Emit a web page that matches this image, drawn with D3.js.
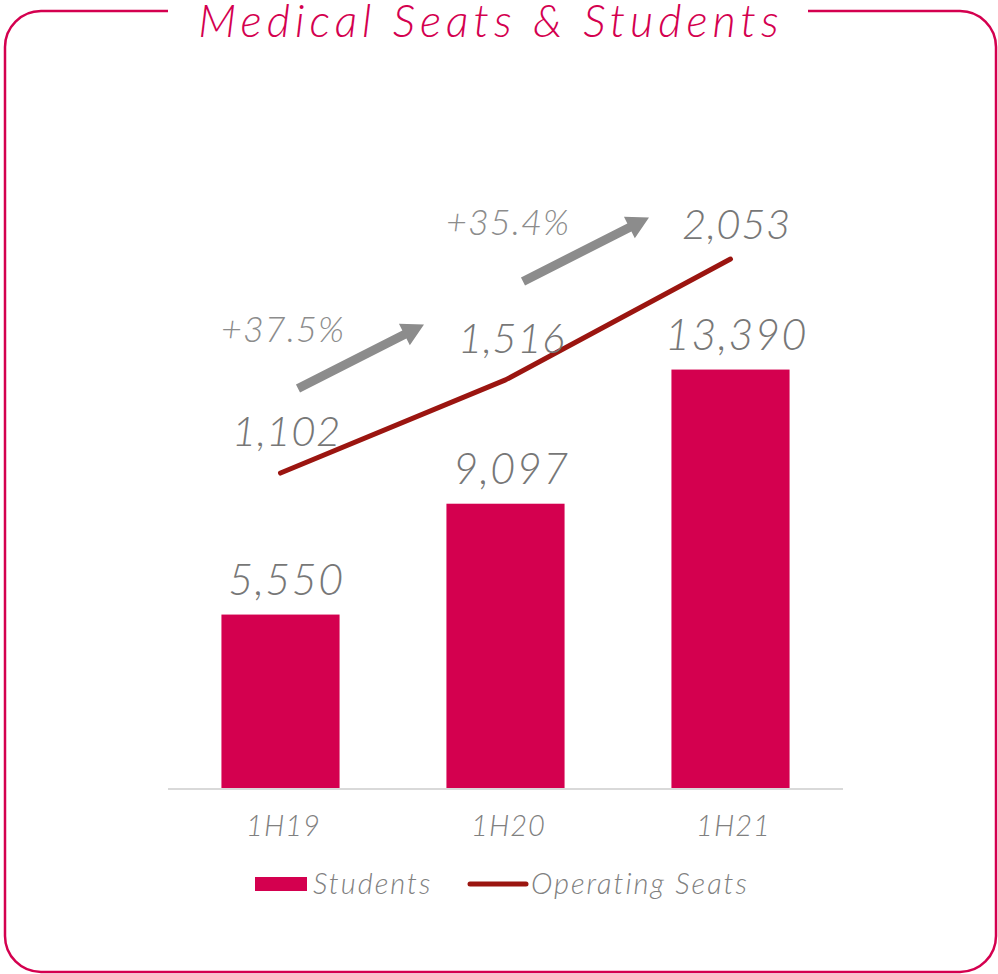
<!DOCTYPE html>
<html>
  <head>
    <title>Medical Seats & Students</title>
    <meta charset="UTF-8" />
    <style>
      body { margin: 0; background: #fff; }
      text { font-family: Lato, "Open Sans", sans-serif; font-style: italic; font-weight: 300; }
    </style>
  </head>
  <body>
    <script src="https://cdn.jsdelivr.net/npm/d3@7"></script>
    <script>
      var periods = ["1H19", "1H20", "1H21"];
      var students = [5550, 9097, 13390];
      var seats = [1102, 1516, 2053];
      var growth = ["+37.5%", "+35.4%"];
      var legendLabels = ["Students", "Operating Seats"];

      var pink = "#d4004f";
      var darkRed = "#9b1510";
      var grey = "#808080";

      var svg = d3.select("body")
                .append("svg")
                .attr("width", 998)
                .attr("height", 974);

      // frame with a gap for the title
      var fx0 = 5, fy0 = 11, fx1 = 996, fy1 = 972, r = 36;
      var gapL = 168, gapR = 808;
      var framePath = d3.path();
      framePath.moveTo(gapR, fy0);
      framePath.lineTo(fx1 - r, fy0);
      framePath.arcTo(fx1, fy0, fx1, fy0 + r, r);
      framePath.lineTo(fx1, fy1 - r);
      framePath.arcTo(fx1, fy1, fx1 - r, fy1, r);
      framePath.lineTo(fx0 + r, fy1);
      framePath.arcTo(fx0, fy1, fx0, fy1 - r, r);
      framePath.lineTo(fx0, fy0 + r);
      framePath.arcTo(fx0, fy0, fx0 + r, fy0, r);
      framePath.lineTo(gapL, fy0);
      svg.append("path")
        .attr("d", framePath.toString())
        .attr("fill", "none")
        .attr("stroke", pink)
        .attr("stroke-width", 2.5);

      svg.append("text")
        .attr("x", 491)
        .attr("y", 37)
        .attr("text-anchor", "middle")
        .attr("font-size", 45)
        .attr("letter-spacing", 5)
        .attr("fill", pink)
        .text("Medical Seats & Students");

      var x = d3.scaleBand()
                .domain(periods)
                .range([168, 843])
                .paddingInner(0.475)
                .paddingOuter(0.2375);

      var y = d3.scaleLinear().domain([0, 16000]).range([788, 288]);
      var y2 = d3.scaleLinear().domain([0, 3000]).range([721, 46]);

      // bars
      svg.append("g").selectAll("rect")
        .data(students)
        .enter()
        .append("rect")
        .attr("x", function(d, i) { return x(periods[i]); })
        .attr("y", function(d) { return y(d); })
        .attr("width", x.bandwidth())
        .attr("height", function(d) { return y(0) - y(d); })
        .attr("fill", pink);

      // axis line
      svg.append("line")
        .attr("x1", 168).attr("x2", 843)
        .attr("y1", 789).attr("y2", 789)
        .attr("stroke", "#d9d9d9")
        .attr("stroke-width", 2);

      svg.append("g").selectAll("text")
        .data(periods)
        .enter()
        .append("text")
        .attr("x", function(d) { return x(d) + x.bandwidth() / 2 + 3; })
        .attr("y", 836)
        .attr("text-anchor", "middle")
        .attr("font-size", 29)
        .attr("letter-spacing", 1)
        .attr("fill", grey)
        .text(function(d) { return d; });

      svg.append("g").selectAll("text")
        .data(students)
        .enter()
        .append("text")
        .attr("x", function(d, i) { return x(periods[i]) + x.bandwidth() / 2 + 6; })
        .attr("y", function(d) { return y(d) - 20; })
        .attr("text-anchor", "middle")
        .attr("font-size", 43)
        .attr("letter-spacing", 1.5)
        .attr("fill", "#777")
        .text(function(d) { return d3.format(",")(d); });

      // line
      var cx = function(i) { return x(periods[i]) + x.bandwidth() / 2; };
      var line = d3.line()
                .x(function(d, i) { return cx(i); })
                .y(function(d) { return y2(d); });

      svg.append("path")
        .datum(seats)
        .attr("d", line)
        .attr("fill", "none")
        .attr("stroke", darkRed)
        .attr("stroke-width", 5)
        .attr("stroke-linecap", "round")
        .attr("stroke-linejoin", "round");

      svg.append("g").selectAll("text")
        .data(seats)
        .enter()
        .append("text")
        .attr("x", function(d, i) { return cx(i) + 6; })
        .attr("y", function(d, i) { return y2(d) - (i == 2 ? 20 : 27); })
        .attr("text-anchor", "middle")
        .attr("font-size", 42)
        .attr("letter-spacing", 0.5)
        .attr("fill", "#777")
        .text(function(d) { return d3.format(",")(d); });

      // growth arrows
      var arrows = svg.append("g");
      growth.forEach(function(g, i) {
        var mx = (cx(i) + cx(i + 1)) / 2 - 32;
        var my = (y2(seats[i]) + y2(seats[i + 1])) / 2 - 70;
        var x0 = mx - 63, y0 = my + 32, x1 = mx + 63, y1 = my - 32;
        var ang = Math.atan2(y1 - y0, x1 - x0) * 180 / Math.PI;
        var len = Math.sqrt((x1 - x0) * (x1 - x0) + (y1 - y0) * (y1 - y0));
        var headL = 22, headW = 12, shaft = 4.5;
        var pts = [[0, -shaft], [len - headL, -shaft], [len - headL, -headW], [len, 0],
                   [len - headL, headW], [len - headL, shaft], [0, shaft]];
        arrows.append("polygon")
          .attr("points", pts.map(function(p) { return p.join(","); }).join(" "))
          .attr("fill", "#8c8c8c")
          .attr("transform", "translate(" + x0 + "," + y0 + ") rotate(" + ang + ")");
        arrows.append("text")
          .attr("x", mx - 78)
          .attr("y", my - 14)
          .attr("text-anchor", "middle")
          .attr("font-size", 36)
          .attr("letter-spacing", 1)
          .attr("fill", "#8c8c8c")
          .text(g);
      });

      // legend
      var legend = svg.append("g");
      legend.append("rect")
        .attr("x", 255).attr("y", 877)
        .attr("width", 52).attr("height", 14)
        .attr("fill", pink);
      legend.append("text")
        .attr("x", 313).attr("y", 894)
        .attr("font-size", 29)
        .attr("letter-spacing", 2)
        .attr("fill", grey)
        .text(legendLabels[0]);
      legend.append("line")
        .attr("x1", 470).attr("x2", 526)
        .attr("y1", 884).attr("y2", 884)
        .attr("stroke", darkRed)
        .attr("stroke-width", 5)
        .attr("stroke-linecap", "round");
      legend.append("text")
        .attr("x", 531).attr("y", 894)
        .attr("font-size", 29)
        .attr("letter-spacing", 2)
        .attr("fill", grey)
        .text(legendLabels[1]);
    </script>
  </body>
</html>
